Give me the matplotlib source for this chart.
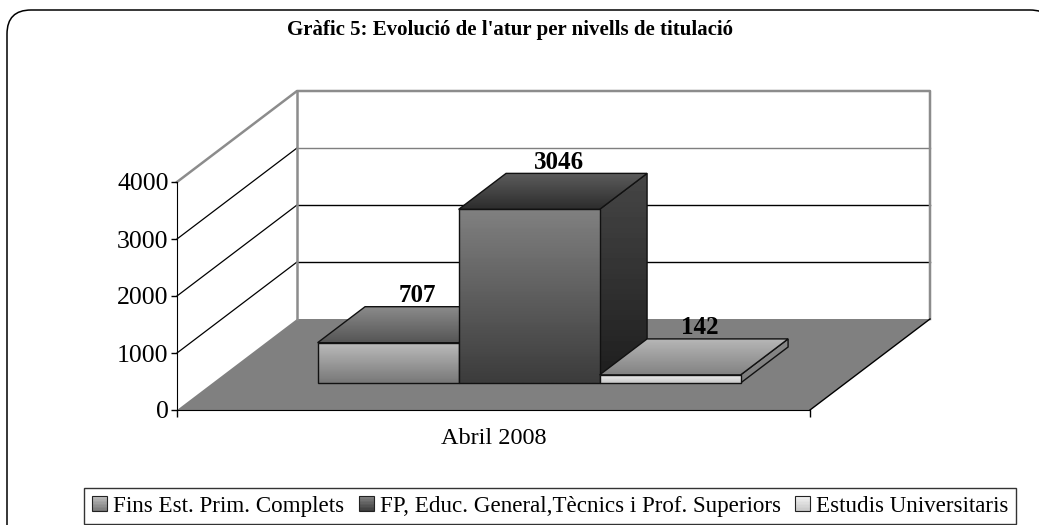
import numpy as np
import matplotlib
matplotlib.use("Agg")
import matplotlib.pyplot as plt
from matplotlib.patches import Polygon, FancyBboxPatch, Rectangle, Patch
from matplotlib.legend_handler import HandlerBase

plt.rcParams['font.family'] = ['Liberation Serif', 'DejaVu Serif']

# data
title = "Gràfic 5: Evolució de l'atur per nivells de titulació"
category = "Abril 2008"
series = ["Fins Est. Prim. Complets", "FP, Educ. General,Tècnics i Prof. Superiors", "Estudis Universitaris"]
values = [707, 3046, 142]
yticks = [0, 1000, 2000, 3000, 4000]

W, H = 1039, 525

# depth of the 3d box, in data units of the front plane
DX = 120 / 633
DY = 91 / 57 * 1000
GAP = 105 / 633
D0, D1 = 27 / 91, 63 / 91

# (front top, front bottom), (top back, top front), (side top, side bottom)
shades = [
    ((188, 120), (138, 85), (110, 60)),
    ((128, 60), (92, 45), (70, 30)),
    ((240, 200), (182, 130), (135, 125)),
]


def proj(x, v, d):
    return x + d * DX, v + d * DY


def grad_poly(ax, pts, top, bottom, z):
    pts = np.array(pts)
    poly = Polygon(pts, closed=True, facecolor='none', edgecolor='#111111', lw=1.0,
                   zorder=z + 0.1, clip_on=False)
    ax.add_patch(poly)
    extent = [pts[:, 0].min(), pts[:, 0].max(), pts[:, 1].min(), pts[:, 1].max()]
    im = ax.imshow(np.linspace(top, bottom, 64).reshape(-1, 1), cmap='gray', vmin=0, vmax=255,
                   extent=extent, aspect='auto', origin='upper', interpolation='bilinear', zorder=z)
    # the box goes above the axes, so clip to the figure and the polygon only
    im.set_clip_box(ax.get_figure().bbox)
    im.set_clip_path(poly)


class GradHandler(HandlerBase):
    def __init__(self, top, bottom):
        super().__init__()
        self.top, self.bottom = top, bottom

    def create_artists(self, legend, orig_handle, xdescent, ydescent, width, height, fontsize, trans):
        size = 10.8
        x0 = -xdescent + (width - size) / 2
        y0 = -ydescent + (height - size) / 2
        artists = []
        n = 10
        for i in range(n):
            g = (self.bottom + (self.top - self.bottom) * i / (n - 1)) / 255
            artists.append(Rectangle((x0, y0 + i * size / n), size, size / n + 0.3,
                                     facecolor=(g, g, g), edgecolor='none', transform=trans))
        artists.append(Rectangle((x0, y0), size, size, facecolor='none', edgecolor='#222222',
                                 lw=0.8, transform=trans))
        return artists


fig = plt.figure(figsize=(W / 100, H / 100), dpi=100)

# background layer in pixels for the rounded frame, it runs past the right and bottom edge
bg = fig.add_axes([0, 0, 1, 1])
bg.set_xlim(0, W)
bg.set_ylim(H, 0)
bg.axis('off')
bg.add_patch(FancyBboxPatch((7, 10), 1047, 560, boxstyle="round,pad=0,rounding_size=24",
                            facecolor='white', edgecolor='black', lw=1.1))

ax = fig.add_axes([177 / W, 1 - 410 / H, 633 / W, 228 / H])
ax.patch.set_alpha(0)

# floor
floor = [proj(0, 0, 0), proj(1, 0, 0), proj(1, 0, 1), proj(0, 0, 1)]
ax.add_patch(Polygon(floor, closed=True, facecolor='#808080', edgecolor='none', zorder=1, clip_on=False))
ax.plot([1, 1 + DX], [0, DY], color='black', lw=1.0, zorder=1.5, clip_on=False)

# walls and gridlines
for t in yticks[1:-1]:
    xs, ys = zip(proj(0, t, 0), proj(0, t, 1), proj(1, t, 1))
    color = '#7f7f7f' if t == yticks[-2] else 'black'
    ax.plot(xs[:2], ys[:2], color='black', lw=0.9, zorder=1.2, clip_on=False)
    ax.plot(xs[1:], ys[1:], color=color, lw=1.0, zorder=1.2, clip_on=False)
top = yticks[-1]
xs, ys = zip(proj(0, top, 0), proj(0, top, 1), proj(1, top, 1), proj(1, 0, 1))
ax.plot(xs, ys, color='#8c8c8c', lw=1.8, zorder=1.2, clip_on=False)
ax.plot([DX, DX], [DY, DY + top], color='#8c8c8c', lw=1.8, zorder=1.2, clip_on=False)

# bars
bw = (1 - 2 * GAP) / len(values)
for i, v in enumerate(values):
    x0 = GAP + i * bw
    x1 = x0 + bw
    front_s, top_s, side_s = shades[i]
    z = 2 + i
    grad_poly(ax, [proj(x1, 0, D0), proj(x1, 0, D1), proj(x1, v, D1), proj(x1, v, D0)],
              side_s[0], side_s[1], z)
    grad_poly(ax, [proj(x0, v, D0), proj(x1, v, D0), proj(x1, v, D1), proj(x0, v, D1)],
              top_s[0], top_s[1], z + 0.2)
    grad_poly(ax, [proj(x0, 0, D0), proj(x1, 0, D0), proj(x1, v, D0), proj(x0, v, D0)],
              front_s[0], front_s[1], z + 0.4)
    lx, ly = proj((x0 + x1) / 2, v, D1)
    ax.annotate(str(v), (lx, ly), xytext=(-13, 3.5), textcoords='offset points',
                ha='center', va='baseline', fontsize=18, fontweight='bold',
                zorder=10, annotation_clip=False)

ax.set_xlim(0, 1)
ax.set_ylim(0, top)
ax.set_yticks(yticks)
ax.set_xticks([0, 1], labels=['', ''])
ax.set_xticks([0.5], labels=[category], minor=True)
ax.tick_params(axis='x', which='minor', length=0, labelsize=17.5, pad=13)
ax.tick_params(axis='x', which='major', length=5, width=1, direction='out')
ax.tick_params(axis='y', length=4, width=1, direction='out', labelsize=18.5, pad=2)
ax.spines['top'].set_visible(False)
ax.spines['right'].set_visible(False)
ax.spines['left'].set_zorder(6)
ax.spines['bottom'].set_zorder(6)

fig.text(510 / W, 1 - 30 / H, title, ha='center', va='center', fontsize=15, fontweight='bold')

handles = [Patch(label=s) for s in series]
handler_map = {h: GradHandler(shades[i][0][0], shades[i][0][1]) for i, h in enumerate(handles)}
fig.legend(handles=handles, handler_map=handler_map, loc='center', ncol=3,
           bbox_to_anchor=(550 / W, 1 - 506 / H), bbox_transform=fig.transFigure,
           fontsize=16.6, frameon=True, fancybox=False, edgecolor='#333333', framealpha=1,
           handlelength=0.7, handletextpad=0.24, columnspacing=0.59, borderpad=0.33, borderaxespad=0)

fig.savefig("out.png", dpi=100)
